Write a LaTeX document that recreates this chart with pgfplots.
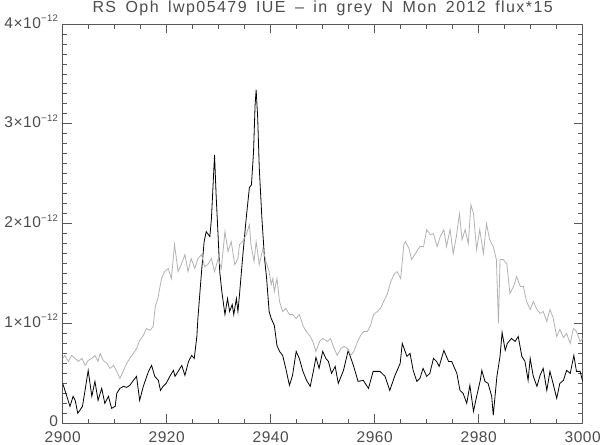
\documentclass[border=0pt]{standalone}
\usepackage{fontspec}
\setmainfont{Liberation Sans}
\newfontfamily\titlefont{Liberation Sans}[LetterSpace=9, WordSpace=1.6]
\newfontfamily\tickfont{Liberation Sans}[LetterSpace=4]
\usepackage{pgfplots}
\pgfplotsset{compat=1.18}
\definecolor{axgray}{gray}{0.35}
\definecolor{txtgray}{gray}{0.3}
\definecolor{specgray}{gray}{0.7}
\newcommand{\ylab}[1]{#1×10\raisebox{0.8ex}{\fontsize{9.5bp}{9.5bp}\selectfont −12}}
\begin{document}
\begin{tikzpicture}
\useasboundingbox (-62.7bp,-21.7bp) rectangle (537.3bp,423.3bp);
\begin{axis}[
  at={(0,0)}, anchor=south west,
  scale only axis, width=520bp, height=399.3bp,
  xmin=2900, xmax=3000, ymin=0, ymax=4,
  xtick={2900,2920,2940,2960,2980,3000},
  xticklabels={2900,2920,2940,2960,2980,3000},
  ytick={0,1,2,3,4},
  yticklabels={0,\ylab1,\ylab2,\ylab3,\ylab4},
  minor x tick num=3, minor y tick num=9,
  major tick length=9bp, minor tick length=4.5bp,
  tick align=inside,
  axis line style={axgray, line width=0.9bp},
  tick style={axgray, line width=0.8bp},
  tick label style={font=\tickfont\fontsize{15.5bp}{15.5bp}\selectfont, text=txtgray, inner sep=0.5bp},
  xticklabel style={yshift=-8bp},
  yticklabel style={xshift=-4bp, yshift=2.5bp},
  /pgf/number format/assume math mode=true,
  title={RS Oph lwp05479 IUE – in grey N Mon 2012 flux*15},
  title style={at={(0.5,1)}, anchor=base, yshift=5.8bp, inner sep=0pt, font=\titlefont\fontsize{16bp}{16bp}\selectfont, text=txtgray},
]
\addplot[black, line width=0.8bp] coordinates {
(2900.0,0.40)(2900.8,0.27)(2901.4,0.17)(2902.0,0.27)(2902.4,0.23)(2902.9,0.10)(2903.3,0.13)(2903.8,0.17)(2904.3,0.33)(2904.9,0.53)(2905.6,0.27)(2906.2,0.42)(2906.8,0.23)(2907.5,0.35)(2908.1,0.20)(2908.8,0.27)(2909.4,0.15)(2910.1,0.17)(2910.4,0.30)(2911.0,0.35)(2911.7,0.37)(2912.3,0.36)(2912.9,0.38)(2913.6,0.43)(2914.2,0.47)(2914.8,0.23)(2915.5,0.37)(2916.5,0.52)(2917.1,0.58)(2917.7,0.47)(2918.4,0.43)(2918.8,0.33)(2919.3,0.37)(2919.9,0.40)(2920.6,0.47)(2921.3,0.53)(2921.6,0.47)(2922.2,0.52)(2922.9,0.58)(2923.5,0.48)(2924.2,0.62)(2924.8,0.68)(2925.3,0.65)(2925.8,0.87)(2926.0,1.05)(2926.7,1.52)(2927.2,1.82)(2927.6,1.92)(2928.3,1.87)(2928.6,2.05)(2929.2,2.69)(2929.5,2.29)(2929.9,1.86)(2930.2,1.52)(2930.6,1.32)(2931.2,1.09)(2931.7,1.25)(2932.1,1.12)(2932.6,1.19)(2932.9,1.09)(2933.4,1.25)(2933.7,1.12)(2934.0,1.29)(2934.6,1.66)(2935.3,2.06)(2935.9,2.36)(2936.3,2.39)(2936.7,2.72)(2937.0,3.19)(2937.2,3.34)(2937.5,3.06)(2937.8,2.56)(2938.3,2.06)(2938.8,1.66)(2939.2,1.46)(2939.7,1.12)(2940.1,1.05)(2940.7,0.98)(2941.2,0.78)(2941.7,0.72)(2942.3,0.68)(2942.9,0.55)(2943.6,0.38)(2944.2,0.48)(2944.9,0.72)(2945.5,0.65)(2946.2,0.52)(2946.9,0.43)(2947.6,0.37)(2948.2,0.52)(2948.7,0.66)(2949.3,0.55)(2950.0,0.72)(2950.6,0.65)(2951.1,0.62)(2951.7,0.50)(2952.4,0.57)(2953.0,0.40)(2954.0,0.53)(2954.9,0.73)(2955.9,0.58)(2956.8,0.42)(2957.8,0.43)(2958.8,0.35)(2959.7,0.52)(2961.0,0.52)(2962.0,0.47)(2962.9,0.33)(2963.9,0.48)(2964.9,0.60)(2965.3,0.80)(2966.2,0.67)(2966.8,0.70)(2967.4,0.53)(2968.1,0.42)(2968.7,0.45)(2969.3,0.55)(2970.0,0.47)(2970.6,0.50)(2971.3,0.65)(2971.9,0.62)(2972.4,0.57)(2973.3,0.73)(2974.2,0.62)(2974.8,0.62)(2975.8,0.50)(2976.4,0.33)(2977.0,0.30)(2977.7,0.20)(2978.3,0.38)(2979.0,0.12)(2979.6,0.27)(2980.3,0.43)(2980.6,0.53)(2981.2,0.42)(2981.8,0.40)(2982.5,0.27)(2982.8,0.08)(2983.5,0.47)(2984.1,0.67)(2984.5,0.91)(2985.1,0.73)(2985.5,0.80)(2986.3,0.85)(2987.0,0.82)(2987.6,0.87)(2988.3,0.67)(2988.9,0.62)(2989.5,0.43)(2989.9,0.65)(2990.5,0.47)(2991.2,0.37)(2991.8,0.48)(2992.4,0.55)(2993.1,0.33)(2993.7,0.52)(2994.3,0.40)(2995.0,0.25)(2995.6,0.40)(2996.3,0.43)(2996.9,0.53)(2997.6,0.50)(2998.3,0.68)(2998.8,0.52)(2999.5,0.52)(3000.0,0.42)
};
\addplot[specgray, line width=0.8bp] coordinates {
(2900.0,0.65)(2900.4,0.68)(2901.1,0.62)(2901.7,0.68)(2902.4,0.65)(2903.0,0.62)(2903.7,0.65)(2904.3,0.58)(2904.9,0.63)(2905.6,0.65)(2906.2,0.68)(2906.8,0.62)(2907.2,0.70)(2907.8,0.63)(2908.5,0.60)(2909.1,0.55)(2909.8,0.58)(2910.4,0.52)(2911.0,0.45)(2911.7,0.53)(2912.3,0.60)(2912.9,0.65)(2913.6,0.70)(2914.2,0.75)(2914.8,0.83)(2915.5,0.88)(2916.1,0.95)(2916.8,0.93)(2917.4,0.97)(2917.8,1.17)(2918.3,1.25)(2919.0,1.45)(2919.6,1.52)(2920.3,1.55)(2920.9,1.45)(2921.5,1.79)(2922.2,1.52)(2922.8,1.59)(2923.5,1.69)(2924.1,1.52)(2924.7,1.65)(2925.4,1.55)(2926.0,1.65)(2926.7,1.69)(2927.3,1.57)(2927.9,1.59)(2928.6,1.65)(2929.2,1.52)(2929.9,1.65)(2930.5,1.55)(2931.2,1.92)(2931.8,1.72)(2932.4,1.82)(2933.1,1.59)(2933.7,1.65)(2934.0,1.79)(2934.6,1.82)(2935.3,1.89)(2935.9,1.99)(2936.2,1.79)(2936.8,1.62)(2937.2,1.82)(2937.8,1.59)(2938.5,1.75)(2939.1,1.62)(2939.7,1.52)(2940.1,1.39)(2940.4,1.45)(2940.7,1.32)(2941.2,1.45)(2941.7,1.22)(2942.3,1.12)(2942.9,1.15)(2943.6,1.09)(2944.2,1.09)(2944.9,1.05)(2945.5,1.09)(2946.2,0.98)(2946.8,0.92)(2947.5,0.88)(2948.1,0.82)(2948.7,0.72)(2949.4,0.82)(2950.0,0.85)(2950.9,0.82)(2951.5,0.85)(2952.2,0.75)(2952.8,0.68)(2953.5,0.75)(2954.1,0.77)(2954.8,0.75)(2955.4,0.68)(2956.0,0.72)(2956.7,0.82)(2957.3,0.88)(2957.9,0.92)(2958.6,0.92)(2959.2,0.98)(2959.8,1.09)(2960.5,1.12)(2961.1,1.15)(2961.7,1.22)(2962.4,1.29)(2963.1,1.42)(2963.7,1.49)(2964.3,1.52)(2965.0,1.45)(2965.6,1.79)(2965.9,1.82)(2966.6,1.75)(2967.1,1.64)(2967.8,1.70)(2968.7,1.77)(2969.4,1.77)(2970.0,1.94)(2970.7,1.89)(2971.3,1.90)(2972.0,1.77)(2972.6,1.87)(2973.3,1.94)(2973.8,1.77)(2974.5,1.94)(2975.1,1.70)(2975.7,1.87)(2976.3,2.10)(2976.8,1.84)(2977.4,1.94)(2978.0,1.80)(2978.5,2.19)(2979.0,2.10)(2979.6,1.74)(2980.2,1.94)(2980.9,1.70)(2981.5,2.00)(2982.1,1.84)(2982.8,1.77)(2983.4,1.64)(2983.8,1.00)(2984.1,1.64)(2984.7,1.64)(2985.4,1.60)(2986.0,1.30)(2986.7,1.37)(2987.3,1.47)(2988.0,1.37)(2988.6,1.37)(2989.2,1.22)(2989.9,1.14)(2990.5,1.22)(2991.2,1.14)(2991.8,1.10)(2992.4,1.12)(2993.1,1.02)(2993.7,1.14)(2994.3,1.06)(2995.0,0.87)(2995.6,0.94)(2996.3,0.86)(2996.9,0.90)(2997.6,0.80)(2998.2,0.95)(2998.8,0.92)(2999.5,0.82)(3000.0,0.85)
};
\end{axis}
\end{tikzpicture}
\end{document}
